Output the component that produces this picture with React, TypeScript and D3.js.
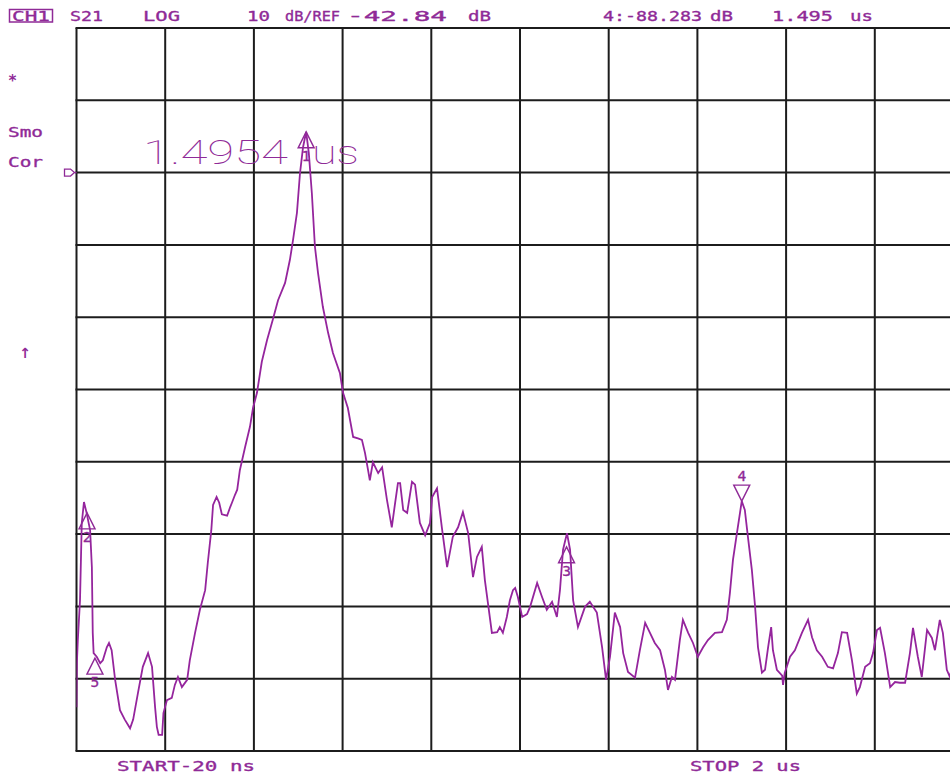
import React from "react";
import * as d3 from "d3";

// Instrument state
const REF_LEVEL = -42.84; // dB
const DB_PER_DIV = 10;
const REF_DIV_FROM_TOP = 2;
const START_NS = -20;
const STOP_NS = 2000;
const DIVS = 10;

// S21 time-domain trace: time (ns) and level (dB)
const timeNs = [
  -20, -19, -17, -12, -8, -3, 3, 11, 15, 17, 19, 26, 34, 40, 49, 54, 60, 68, 79, 90,
  102, 109, 120, 131, 143, 152, 159, 163, 167, 175, 178, 186, 197, 204, 211, 220, 232, 238, 250, 261,
  273, 279, 287, 291, 299, 305, 311, 323, 330, 334, 341, 346, 352, 364, 375, 382, 391, 402, 414, 427,
  439, 455, 466, 473, 482, 489, 496, 503, 509, 516, 523, 530, 541, 553, 564, 580, 587, 598, 610, 621,
  630, 637, 644, 648, 655, 667, 676, 687, 698, 705, 712, 717, 724, 733, 744, 751, 762, 774, 785, 790,
  801, 812, 824, 837, 849, 860, 872, 883, 892, 903, 910, 917, 926, 938, 944, 951, 960, 967, 974, 979,
  985, 995, 1006, 1013, 1029, 1040, 1051, 1063, 1074, 1081, 1088, 1097, 1104, 1111, 1122, 1138, 1149, 1165, 1177, 1186,
  1195, 1206, 1218, 1225, 1236, 1252, 1263, 1275, 1286, 1297, 1309, 1320, 1327, 1336, 1343, 1354, 1361, 1373, 1384, 1395,
  1407, 1418, 1434, 1450, 1461, 1468, 1475, 1484, 1491, 1495, 1502, 1509, 1518, 1525, 1532, 1541, 1548, 1555, 1562, 1566,
  1575, 1587, 1589, 1593, 1605, 1616, 1632, 1646, 1655, 1666, 1678, 1691, 1703, 1714, 1723, 1735, 1746, 1757, 1764, 1776,
  1787, 1794, 1803, 1810, 1821, 1833, 1844, 1855, 1867, 1878, 1885, 1896, 1905, 1917, 1928, 1935, 1946, 1953, 1962, 1969,
  1982, 2000,
];
const levelDb = [
  -116.8, -110.5, -107.5, -102.0, -91.3, -88.4, -89.9, -92.3, -97.4, -106.5, -109.3, -109.8, -110.7, -110.3, -108.5, -107.9, -108.9, -113.0, -117.2, -118.5,
  -119.7, -118.5, -114.8, -111.2, -109.3, -111.2, -116.8, -119.5, -120.6, -120.6, -117.6, -115.8, -115.5, -113.7, -112.6, -114.0, -113.0, -110.3, -106.5, -103.3,
  -100.6, -96.8, -92.3, -88.8, -87.7, -88.5, -90.1, -90.3, -89.1, -88.5, -87.4, -86.7, -84.0, -80.8, -78.0, -75.4, -73.3, -69.0, -66.0, -63.2,
  -60.5, -58.1, -54.9, -52.2, -48.4, -42.9, -39.3, -37.2, -40.1, -45.7, -53.1, -56.7, -61.4, -65.0, -67.8, -70.6, -73.3, -75.4, -79.4, -79.6,
  -79.8, -81.6, -84.0, -85.4, -82.9, -84.4, -83.6, -88.1, -91.9, -88.8, -85.8, -85.8, -89.5, -89.9, -85.6, -86.0, -91.3, -93.0, -91.3, -87.7,
  -86.5, -91.9, -97.4, -93.2, -91.9, -89.8, -92.7, -98.8, -96.0, -94.6, -99.2, -102.4, -106.5, -106.4, -105.7, -106.5, -104.3, -102.0, -100.6, -100.3,
  -101.5, -104.3, -103.9, -102.9, -99.6, -101.5, -103.3, -102.2, -104.3, -100.6, -95.0, -92.7, -95.0, -102.0, -105.7, -102.9, -102.2, -103.7, -108.5, -113.0,
  -109.8, -103.7, -105.7, -109.3, -111.9, -112.7, -108.9, -105.1, -106.5, -107.9, -108.9, -111.6, -114.4, -112.6, -113.0, -107.5, -104.7, -106.5, -107.9, -109.8,
  -108.5, -107.5, -106.5, -106.4, -104.7, -101.0, -96.4, -92.7, -89.9, -88.283, -89.5, -93.2, -97.8, -102.6, -108.5, -112.0, -111.6, -108.5, -105.7, -108.9,
  -111.6, -112.4, -113.7, -112.0, -109.8, -108.9, -106.5, -104.7, -107.1, -108.9, -109.8, -111.2, -111.4, -109.3, -106.4, -106.5, -110.3, -114.9, -114.0, -111.2,
  -110.7, -109.3, -106.1, -105.8, -109.3, -114.0, -113.3, -113.4, -113.4, -109.3, -105.8, -109.8, -112.6, -106.1, -107.2, -108.9, -104.7, -106.5, -111.6, -112.6,
  -108.6, -106.0,
];

// Markers
const markerIds = ["1", "2", "3", "4", "5"];
const markerTimeNs = [503, 4, 1096, 1495, 22];
const markerLevelDb = [-37.2, -89.9, -94.6, -88.283, -110.0];
const activeMarker = "4";

// Annotation text
const headerItems = [
  { text: "S21", x: 70, w: 33 },
  { text: "LOG", x: 143, w: 37 },
  { text: "10", x: 247, w: 23 },
  { text: "dB/REF", x: 285, w: 55 },
  { text: "-42.84", x: 347, w: 100 },
  { text: "dB", x: 468, w: 23 },
  { text: "4:-88.283", x: 603, w: 99 },
  { text: "dB", x: 710, w: 23 },
  { text: "1.495", x: 772, w: 61 },
  { text: "us", x: 850, w: 23 },
];
const sideItems = [
  { text: "Smo", y: 137 },
  { text: "Cor", y: 167 },
];
const startLabel = "START-20 ns";
const stopLabel = "STOP 2 us";
const readoutValue = "1.4954";
const readoutUnit = "us";

const W = 950;
const H = 776;
const PLOT = { left: 76.5, right: 963.5, top: 28, bottom: 751 };
const PURPLE = "#8f2a97";
const TRACE = "#95259d";
const GRID = "#1c1c1c";
const MONO = "'DejaVu Sans Mono', 'Liberation Mono', monospace";

export default function App() {
  const x = d3.scaleLinear().domain([START_NS, STOP_NS]).range([PLOT.left, PLOT.right]);
  const topDb = REF_LEVEL + REF_DIV_FROM_TOP * DB_PER_DIV;
  const y = d3
    .scaleLinear()
    .domain([topDb, topDb - DIVS * DB_PER_DIV])
    .range([PLOT.top, PLOT.bottom]);

  const pts: [number, number][] = timeNs.map((t, i) => [t, levelDb[i]]);
  const line = d3
    .line<[number, number]>()
    .x((d) => x(d[0]))
    .y((d) => y(d[1]));

  const xTicks = d3.range(DIVS + 1).map((i) => START_NS + ((STOP_NS - START_NS) * i) / DIVS);
  const yTicks = d3.range(DIVS + 1).map((i) => topDb - i * DB_PER_DIV);
  const refY = y(REF_LEVEL);

  const monoText = {
    fill: PURPLE,
    stroke: PURPLE,
    strokeWidth: 0.35,
    fontFamily: MONO,
    fontSize: 14.5,
    lengthAdjust: "spacingAndGlyphs",
  } as const;

  return (
    <svg
      width={W}
      height={H}
      viewBox={`0 0 ${W} ${H}`}
      style={{ position: "absolute", left: 0, top: 0, background: "#fff" }}
    >
      <rect x={0} y={0} width={W} height={H} fill="#fff" />
      <defs>
        <clipPath id="plotClip">
          <rect x={PLOT.left} y={PLOT.top - 2} width={PLOT.right - PLOT.left} height={PLOT.bottom - PLOT.top + 4} />
        </clipPath>
      </defs>

      {/* graticule */}
      <g stroke={GRID} strokeWidth={2}>
        {xTicks.map((t, i) => (
          <line key={"v" + i} x1={x(t)} x2={x(t)} y1={PLOT.top} y2={PLOT.bottom} />
        ))}
        {yTicks.map((v, i) => (
          <line key={"h" + i} x1={PLOT.left - 1} x2={PLOT.right} y1={y(v)} y2={y(v)} />
        ))}
      </g>

      {/* trace */}
      <path
        d={line(pts) || ""}
        fill="none"
        stroke={TRACE}
        strokeWidth={1.8}
        strokeLinejoin="miter"
        clipPath="url(#plotClip)"
      />

      {/* markers */}
      <g stroke={PURPLE} strokeWidth={1.4} fill="none">
        {markerIds.map((id, i) => {
          const mx = x(markerTimeNs[i]);
          const my = y(markerLevelDb[i]);
          const down = id === activeMarker;
          const hw = 8;
          const th = 16;
          if (down) {
            return (
              <g key={id}>
                <path d={`M${mx},${my} L${mx - hw},${my - th} L${mx + hw},${my - th} Z`} />
                <text x={mx} y={my - th - 4} textAnchor="middle" {...monoText} lengthAdjust={undefined}>
                  {id}
                </text>
              </g>
            );
          }
          return (
            <g key={id}>
              <path d={`M${mx},${my} L${mx - hw},${my + th} L${mx + hw},${my + th} Z`} />
              <text x={mx} y={my + th + 13} textAnchor="middle" {...monoText} lengthAdjust={undefined}>
                {id}
              </text>
            </g>
          );
        })}
      </g>

      {/* marker readout */}
      <text
        x={143}
        y={164}
        fill={PURPLE}
        fontFamily="Roboto, 'DejaVu Sans', sans-serif"
        fontWeight={100}
        fontSize={33}
        textLength={145}
        lengthAdjust="spacingAndGlyphs"
      >
        {readoutValue}
      </text>
      <text
        x={312}
        y={164}
        fill={PURPLE}
        fontFamily="Roboto, 'DejaVu Sans', sans-serif"
        fontWeight={100}
        fontSize={33}
        textLength={47}
        lengthAdjust="spacingAndGlyphs"
      >
        {readoutUnit}
      </text>

      {/* header */}
      <rect x={9.5} y={9.5} width={43} height={12.5} fill="none" stroke={PURPLE} strokeWidth={1.5} />
      <text x={12} y={20.5} {...monoText} textLength={38}>
        CH1
      </text>
      {headerItems.map((h, i) => (
        <text key={i} x={h.x} y={21} {...monoText} textLength={h.w}>
          {h.text}
        </text>
      ))}

      {/* side annotations */}
      <text x={8} y={86} fill={PURPLE} fontFamily={MONO} fontSize={15} fontWeight="bold">
        *
      </text>
      {sideItems.map((s, i) => (
        <text key={i} x={8} y={s.y} {...monoText} textLength={35}>
          {s.text}
        </text>
      ))}
      <text x={25} y={358} textAnchor="middle" fill={PURPLE} fontFamily="'DejaVu Sans', sans-serif" fontSize={14} fontWeight="bold">
        ↑
      </text>

      {/* reference level pointer */}
      <path
        d={`M${PLOT.left - 12},${refY - 3.5} L${PLOT.left - 6},${refY - 3.5} L${PLOT.left - 2},${refY} L${PLOT.left - 6},${refY + 3.5} L${PLOT.left - 12},${refY + 3.5} Z M${PLOT.left - 2},${refY} L${PLOT.left},${refY}`}
        fill="none"
        stroke={PURPLE}
        strokeWidth={1.3}
      />

      {/* sweep limits */}
      <text x={117} y={771} {...monoText} textLength={138}>
        {startLabel}
      </text>
      <text x={690} y={771} {...monoText} textLength={111}>
        {stopLabel}
      </text>
    </svg>
  );
}
